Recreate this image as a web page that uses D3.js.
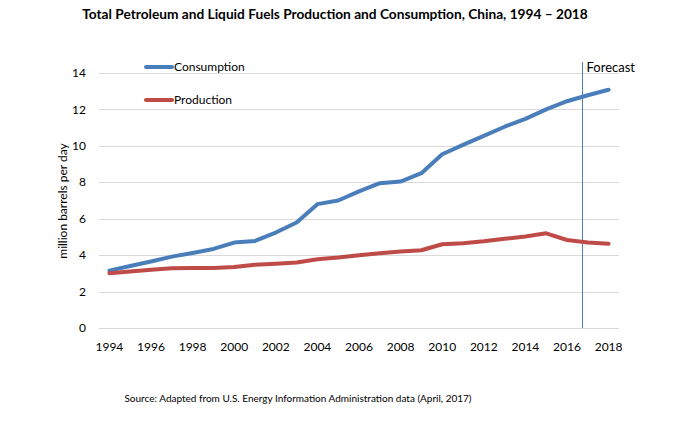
<!DOCTYPE html>
<html>
<head>
<meta charset="utf-8">
<script src="https://cdn.jsdelivr.net/npm/d3@7"></script>
<style>
  body { margin: 0; background: #fff; }
  text { font-family: Lato, "Open Sans", sans-serif; fill: #000; }
</style>
</head>
<body>
<script>
const years = d3.range(1994, 2019);
const consumption = [3.15, 3.4, 3.65, 3.92, 4.12, 4.34, 4.69, 4.78, 5.24, 5.79, 6.8, 7.0,
  7.5, 7.95, 8.04, 8.5, 9.54, 10.05, 10.55, 11.05, 11.48, 12.0, 12.45, 12.78, 13.08];
const production = [3.0, 3.1, 3.2, 3.28, 3.3, 3.3, 3.35, 3.47, 3.53, 3.6, 3.77, 3.87,
  4.0, 4.1, 4.2, 4.27, 4.6, 4.65, 4.76, 4.9, 5.02, 5.2, 4.83, 4.7, 4.63];
const yTicks = [0, 2, 4, 6, 8, 10, 12, 14];
const xTicks = d3.range(1994, 2019, 2);
const forecastYear = 2016.7;

const svgWidth = 686, svgHeight = 421;
const margin = { top: 73, right: 67, bottom: 93, left: 99 };
const width = svgWidth - margin.left - margin.right;
const height = svgHeight - margin.top - margin.bottom;

const svgRoot = d3.select("body")
  .append("svg")
  .attr("width", svgWidth)
  .attr("height", svgHeight);

const svg = svgRoot.append("g")
  .attr("transform", `translate(${margin.left},${margin.top})`);

// category style x axis: each year in the middle of its slot
const x = d3.scalePoint()
  .domain(years)
  .range([0, width])
  .padding(0.5);

const xLinear = d3.scaleLinear()
  .domain([years[0], years[years.length - 1]])
  .range([x(years[0]), x(years[years.length - 1])]);

const y = d3.scaleLinear()
  .domain([0, 14])
  .range([height, 0]);

// gridlines
svg.append("g")
  .selectAll("line")
  .data(yTicks)
  .enter()
  .append("line")
  .attr("x1", 0)
  .attr("x2", width)
  .attr("y1", d => Math.round(y(d)) + 0.5)
  .attr("y2", d => Math.round(y(d)) + 0.5)
  .attr("stroke", "#d9d9d9")
  .attr("stroke-width", 1);

// y tick labels
svg.append("g")
  .selectAll("text")
  .data(yTicks)
  .enter()
  .append("text")
  .attr("x", -13)
  .attr("y", d => y(d))
  .attr("dy", "0.35em")
  .attr("text-anchor", "end")
  .style("font-size", "12px")
  .text(d => d);

// x tick labels
svg.append("g")
  .selectAll("text")
  .data(xTicks)
  .enter()
  .append("text")
  .attr("x", d => x(d))
  .attr("y", height + 23)
  .attr("text-anchor", "middle")
  .style("font-size", "12px")
  .text(d => d);

// forecast marker
svg.append("line")
  .attr("x1", Math.round(xLinear(forecastYear)) + 0.5)
  .attr("x2", Math.round(xLinear(forecastYear)) + 0.5)
  .attr("y1", -11)
  .attr("y2", height)
  .attr("stroke", "#4a7ebb")
  .attr("stroke-width", 1);

svg.append("text")
  .attr("x", xLinear(forecastYear) + 5)
  .attr("y", -1)
  .style("font-size", "13px")
  .text("Forecast");

// lines
const line = d3.line()
  .x((d, i) => x(years[i]))
  .y(d => y(d));

const series = [
  { name: "Consumption", values: consumption, color: "#4a7ebb" },
  { name: "Production", values: production, color: "#be4b48" }
];

svg.selectAll(".series")
  .data(series)
  .enter()
  .append("path")
  .attr("class", "series")
  .attr("d", d => line(d.values))
  .attr("fill", "none")
  .attr("stroke", d => d.color)
  .attr("stroke-width", 4)
  .attr("stroke-linejoin", "round")
  .attr("stroke-linecap", "round");

// legend
const legend = svgRoot.append("g")
  .selectAll("g")
  .data(series)
  .enter()
  .append("g")
  .attr("transform", (d, i) => `translate(146,${67 + i * 33})`);

legend.append("line")
  .attr("x1", 0)
  .attr("x2", 26)
  .attr("stroke", d => d.color)
  .attr("stroke-width", 4)
  .attr("stroke-linecap", "round");

legend.append("text")
  .attr("x", 28)
  .attr("dy", "0.35em")
  .style("font-size", "12px")
  .text(d => d.name);

// axis title
svgRoot.append("text")
  .attr("transform", "translate(67,201) rotate(-90)")
  .attr("text-anchor", "middle")
  .style("font-size", "12px")
  .text("million barrels per day");

// chart title
svgRoot.append("text")
  .attr("x", 335)
  .attr("y", 19)
  .attr("text-anchor", "middle")
  .style("font-size", "13.7px")
  .style("font-weight", "bold")
  .text("Total Petroleum and Liquid Fuels Production and Consumption, China, 1994 \u2013 2018");

// source
svgRoot.append("text")
  .attr("x", 298)
  .attr("y", 402)
  .attr("text-anchor", "middle")
  .style("font-size", "10px")
  .text("Source: Adapted from U.S. Energy Information Administration data (April, 2017)");
</script>
</body>
</html>
